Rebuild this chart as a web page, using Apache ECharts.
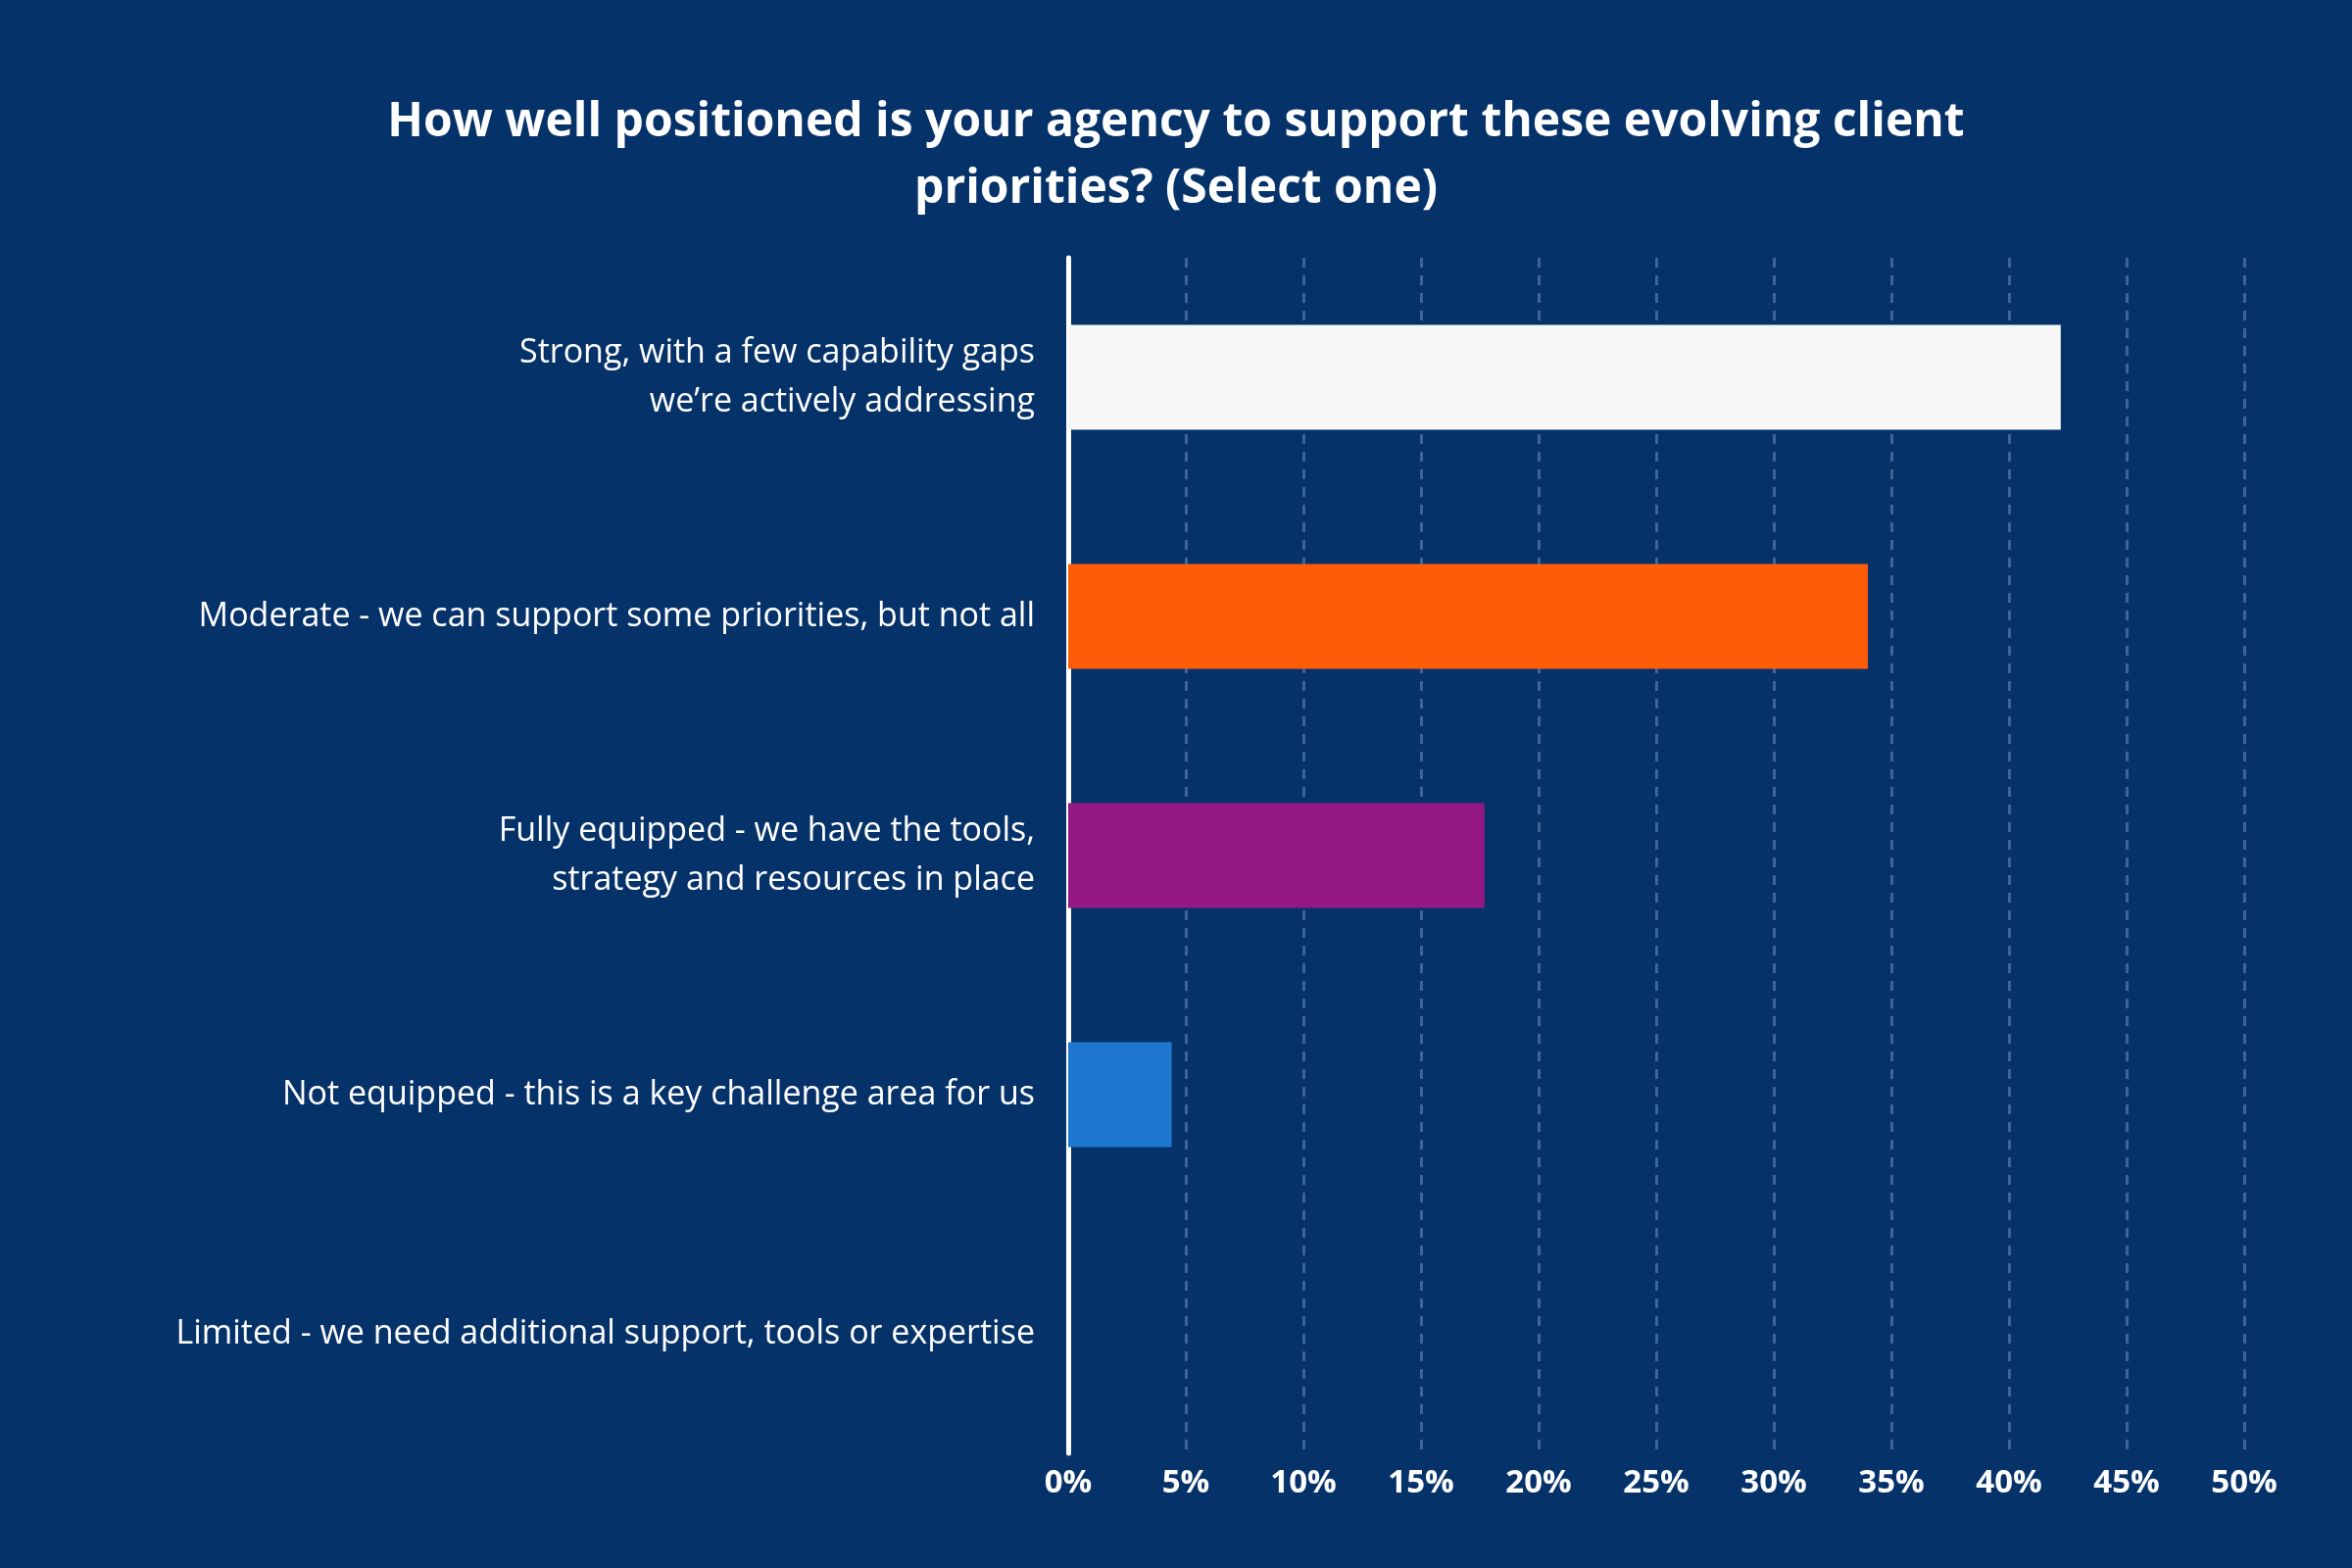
<!DOCTYPE html>
<html>
<head>
<meta charset="utf-8">
<script src="https://cdn.jsdelivr.net/npm/echarts@6/dist/echarts.min.js"></script>
<style>
  html, body { margin: 0; padding: 0; background: #06326a; }
  #chart { width: 2400px; height: 1600px; }
</style>
</head>
<body>
<div id="chart"></div>
<script>
// categories top to bottom
var categories = [
  'Strong, with a few capability gaps\nwe\u2019re actively addressing',
  'Moderate - we can support some priorities, but not all',
  'Fully equipped - we have the tools,\nstrategy and resources in place',
  'Not equipped - this is a key challenge area for us',
  'Limited - we need additional support, tools or expertise'
]
var values = [42.2, 34.0, 17.7, 4.4, 0]
var barColors = ['#f7f7f7', '#ff5c0a', '#931883', '#1f78cf', '#1f78cf']

var chart = echarts.init(document.getElementById('chart'))

var option = {
  backgroundColor: '#06326a',
  title: {
    text: 'How well positioned is your agency to support these evolving client\npriorities? (Select one)',
    left: 'center',
    top: 86,
    textStyle: {
      color: '#ffffff',
      fontSize: 48,
      fontWeight: 'bold',
      fontFamily: 'Open Sans',
      lineHeight: 68
    }
  },
  grid: { left: 1090, right: 110, top: 263, bottom: 117 },
  xAxis: {
    type: 'value',
    min: 0,
    max: 50,
    interval: 5,
    axisLine: { show: false },
    axisTick: { show: false },
    axisLabel: {
      color: '#ffffff',
      fontSize: 33,
      fontWeight: 'bold',
      fontFamily: 'Open Sans',
      margin: 14,
      formatter: '{value}%'
    },
    splitLine: {
      show: true,
      lineStyle: { color: '#3e6496', type: [10, 8], width: 3 }
    }
  },
  yAxis: {
    type: 'category',
    inverse: true,
    data: categories,
    axisLine: { show: true, lineStyle: { color: '#ffffff', width: 5 } },
    axisTick: { show: false },
    axisLabel: {
      color: '#ffffff',
      fontSize: 34,
      fontFamily: 'Open Sans',
      lineHeight: 50,
      margin: 34,
      align: 'right'
    }
  },
  series: [
    {
      type: 'bar',
      barWidth: 107,
      data: values.map(function(v, i) {
        return { value: v, itemStyle: { color: barColors[i] } }
      })
    }
  ]
}

chart.setOption(option)
</script>
</body>
</html>
